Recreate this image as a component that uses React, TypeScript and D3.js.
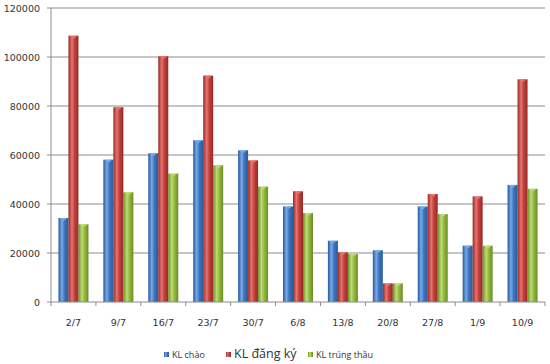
import React from 'react';
import { scaleBand, scaleLinear } from 'd3';

const categories = ['2/7', '9/7', '16/7', '23/7', '30/7', '6/8', '13/8', '20/8', '27/8', '1/9', '10/9'];
const klChao = [34300, 58100, 60700, 66000, 61900, 39000, 25000, 21100, 39000, 23000, 47800];
const klDangKy = [108700, 79500, 100300, 92400, 57800, 45200, 20300, 7600, 44100, 43100, 90900];
const klTrungThau = [31700, 44800, 52400, 55800, 47100, 36300, 19600, 7600, 35900, 23000, 46200];
const yTicks = [0, 20000, 40000, 60000, 80000, 100000, 120000];

const series = [
  { key: 'chao', name: 'KL chào', values: klChao, base: '#3f76c0', light: '#79a8e6', dark: '#265a9c', size: 9 },
  { key: 'dangky', name: 'KL đăng ký', values: klDangKy, base: '#c3413d', light: '#e87470', dark: '#932a27', size: 12.5 },
  { key: 'trung', name: 'KL trúng thầu', values: klTrungThau, base: '#94bb3f', light: '#bfdc74', dark: '#6a8c26', size: 9 },
];

const dim = { width: 550, height: 364, left: 51, right: 545, top: 8, bottom: 302 };

const App = () => {
  const x = scaleBand<string>().domain(categories).range([dim.left, dim.right]).paddingInner(0).paddingOuter(0);
  const y = scaleLinear().domain([0, 120000]).range([dim.bottom, dim.top]);
  const barW = 10;
  const groupW = barW * series.length;
  const font = '"DejaVu Sans", Verdana, sans-serif';
  const legendFont = '"Open Sans", "Noto Sans", sans-serif';
  const legendX = [164, 226, 308];

  return (
    <svg width={dim.width} height={dim.height} style={{ position: 'absolute', left: 0, top: 0, background: '#fff' }}>
      <defs>
        {series.map((s) => (
          <linearGradient key={s.key} id={`g-${s.key}`} x1="0" x2="1" y1="0" y2="0">
            <stop offset="0" stopColor={s.dark} />
            <stop offset="0.35" stopColor={s.light} />
            <stop offset="0.6" stopColor={s.base} />
            <stop offset="1" stopColor={s.dark} />
          </linearGradient>
        ))}
      </defs>
      {yTicks.map((t) => (
        <g key={t}>
          {t > 0 && <line x1={dim.left} x2={dim.right} y1={y(t)} y2={y(t)} stroke="#8c8c8c" strokeWidth={1} />}
          <line x1={dim.left - 4} x2={dim.left} y1={y(t)} y2={y(t)} stroke="#8c8c8c" />
          <text x={dim.left - 11} y={y(t) + 3.5} textAnchor="end" fontSize={9.5} fontFamily={font} fill="#333">
            {t}
          </text>
        </g>
      ))}
      <line x1={dim.left} x2={dim.left} y1={dim.top} y2={dim.bottom} stroke="#8c8c8c" />
      {categories.map((c, i) => {
        const x0 = (x(c) as number) + (x.bandwidth() - groupW) / 2;
        return (
          <g key={c}>
            {series.map((s, j) => {
              const v = s.values[i];
              const bx = x0 + j * barW;
              const by = y(v);
              return (
                <g key={s.key}>
                  <rect x={bx} y={by} width={barW} height={dim.bottom - by} fill={`url(#g-${s.key})`} />
                  <path d={`M${bx + 1},${by} L${bx + barW - 1},${by} L${bx + barW / 2},${by + 3} Z`} fill={s.light} opacity={0.9} />
                </g>
              );
            })}
          </g>
        );
      })}
      <line x1={dim.left} x2={dim.right} y1={dim.bottom} y2={dim.bottom} stroke="#8c8c8c" />
      {categories.map((c) => (
        <line key={c} x1={x(c) as number} x2={x(c) as number} y1={dim.bottom} y2={dim.bottom + 4} stroke="#8c8c8c" />
      ))}
      <line x1={dim.right} x2={dim.right} y1={dim.bottom} y2={dim.bottom + 4} stroke="#8c8c8c" />
      {categories.map((c) => (
        <text key={c} x={(x(c) as number) + x.bandwidth() / 2} y={326} textAnchor="middle" fontSize={9.5} fontFamily={font} fill="#333">
          {c}
        </text>
      ))}
      {series.map((s, j) => (
        <g key={s.key}>
          <rect x={legendX[j]} y={352} width={5} height={5} fill={`url(#g-${s.key})`} />
          <text x={legendX[j] + 8} y={358} fontSize={s.size} fontFamily={legendFont} fill="#333">
            {s.name}
          </text>
        </g>
      ))}
    </svg>
  );
};

export default App;
